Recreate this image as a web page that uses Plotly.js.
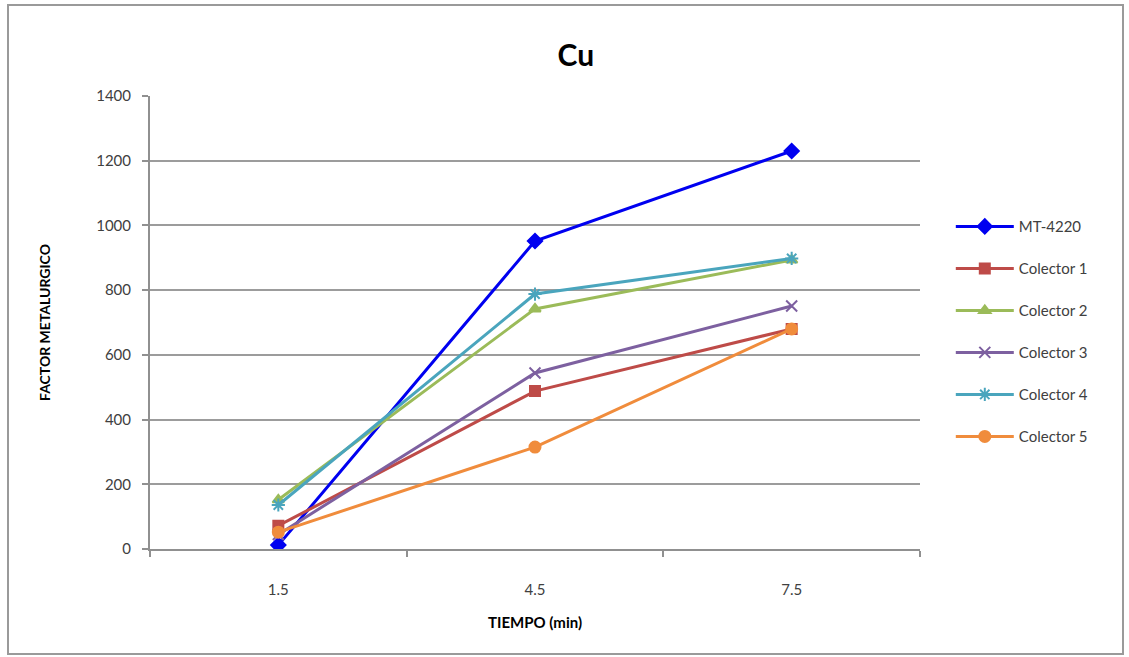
<!DOCTYPE html>
<html>
<head>
<meta charset="utf-8">
<script src="https://cdn.plot.ly/plotly-3.0.1.min.js"></script>
<style>html,body{margin:0;padding:0;background:#fff;}#chart{width:1129px;height:657px;}</style>
</head>
<body>
<div id="chart"></div>
<script>
const categories = ["1.5", "4.5", "7.5"];
const seriesNames = ["MT-4220", "Colector 1", "Colector 2", "Colector 3", "Colector 4", "Colector 5"];
const mt4220 = [12, 952, 1230];
const colector1 = [72, 488, 680];
const colector2 = [152, 742, 893];
const colector3 = [45, 544, 751];
const colector4 = [136, 788, 898];
const colector5 = [52, 315, 680];
const yTicks = [0, 200, 400, 600, 800, 1000, 1200, 1400];

const seriesValues = [mt4220, colector1, colector2, colector3, colector4, colector5];
const colors = ["#0000F0", "#BE4B48", "#9BBB59", "#7D60A0", "#4AA5BD", "#F08C3C"];
const symbols = ["diamond", "square", "triangle-up", "x-thin-open", "asterisk-open", "circle"];
const sizes = [11, 10, 10, 11, 11, 11];

const traces = seriesNames.map((name, i) => ({
  type: "scatter",
  mode: "lines+markers",
  name: name,
  x: categories,
  y: seriesValues[i],
  legendgroup: "g" + i,
  line: {color: colors[i], width: 3},
  marker: {symbol: symbols[i], size: sizes[i], color: colors[i], line: {color: colors[i], width: 2}}
}));

const layout = {
  width: 1129, height: 657,
  paper_bgcolor: "#fff", plot_bgcolor: "#fff",
  margin: {l: 150, r: 209, t: 96, b: 108},
  font: {family: "Lato, 'Open Sans', sans-serif", color: "#404040", size: 14},
  title: {text: "<b>Cu</b>", font: {size: 30, color: "#000", family: "Lato, sans-serif"}, x: 0.51, xanchor: "center", y: 0.915, yanchor: "middle"},
  xaxis: {
    type: "category",
    range: [-0.5, 2.5],
    title: {text: "<b>TIEMPO (min)</b>", font: {size: 15, color: "#000"}, standoff: 20},
    showline: true, linecolor: "#909090", linewidth: 2,
    ticks: "outside", tickson: "boundaries", ticklen: 6, tickcolor: "#909090", tickwidth: 2,
    ticklabelstandoff: 26,
    showgrid: false, zeroline: false,
    tickfont: {size: 15, color: "#404040"}
  },
  yaxis: {
    title: {text: "<b>FACTOR METALURGICO</b>", font: {size: 14, color: "#000"}, standoff: 42},
    range: [0, 1400], tickvals: yTicks, ticktext: yTicks.map(String),
    showline: true, linecolor: "#909090", linewidth: 2,
    ticks: "outside", ticklen: 6, tickcolor: "#909090", tickwidth: 2,
    ticklabelstandoff: 8,
    showgrid: true, gridcolor: "#9c9c9c", gridwidth: 2, zeroline: false,
    tickfont: {size: 15, color: "#404040"}
  },
  showlegend: true,
  legend: {
    x: 1.04, xanchor: "left", y: 0.748, yanchor: "top",
    traceorder: "grouped", tracegroupgap: 19.5,
    itemwidth: 58,
    font: {size: 15, color: "#404040"},
    bgcolor: "rgba(0,0,0,0)"
  },
  shapes: [{
    type: "rect", xref: "paper", yref: "paper",
    x0: (8 - 150) / 770, x1: (1123 - 150) / 770,
    y0: (549 - 654) / 453, y1: (549 - 5) / 453,
    line: {color: "#9a9a9a", width: 2}
  }]
};

Plotly.newPlot("chart", traces, layout, {displayModeBar: false, staticPlot: true});
</script>
</body>
</html>
